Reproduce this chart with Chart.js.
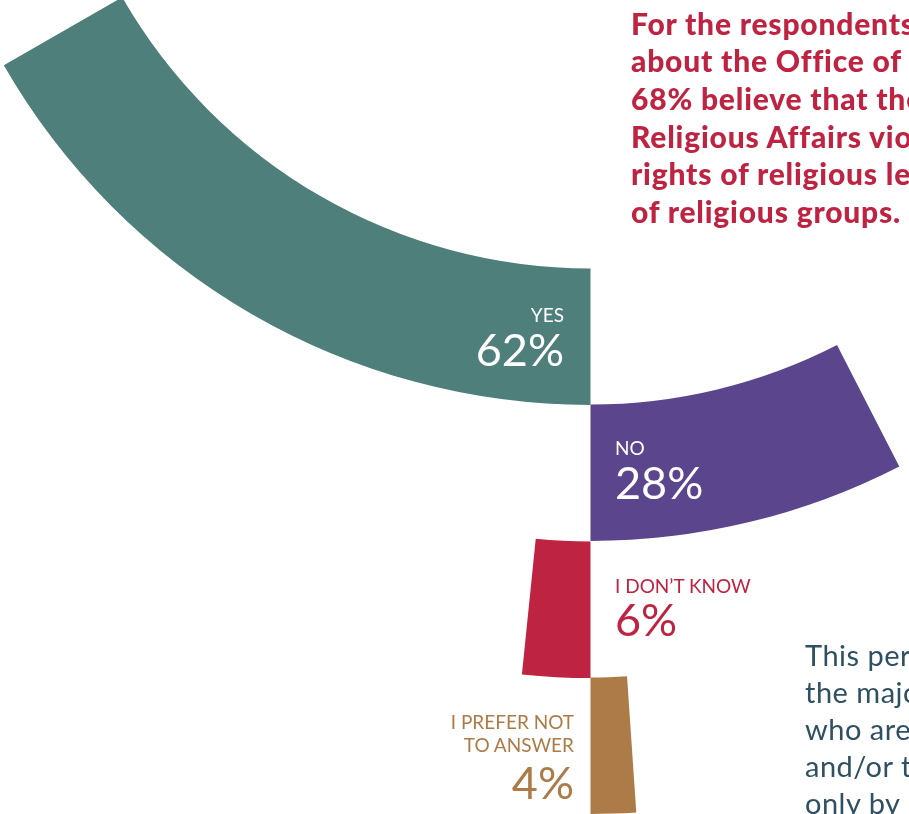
<!DOCTYPE html>
<html>
<head>
<meta charset="utf-8">
<script src="https://cdn.jsdelivr.net/npm/chart.js@4.4.1/dist/chart.umd.min.js"></script>
<style>
  html, body { margin: 0; padding: 0; background: #fff; }
  #stage { position: relative; width: 909px; height: 814px; overflow: hidden; font-family: Lato, "Open Sans", sans-serif; }
  #stage canvas { position: absolute; z-index: 1; }
  .txt { position: absolute; white-space: nowrap; z-index: 2; }
  #titulo { left: 631px; top: 4.5px; font-size: 30px; line-height: 37.7px; font-weight: 900; letter-spacing: 0.8px; color: #be2341; }
  #nota { left: 805px; top: 636px; font-size: 29px; line-height: 37px; font-weight: 400; letter-spacing: 0.5px; color: #2f5061; }
</style>
</head>
<body>
<div id="stage">
  <div id="titulo" class="txt">For the respondents who know<br>about the Office of Religious Affairs,<br>68% believe that the Office of<br>Religious Affairs violates the<br>rights of religious leaders and<br>of religious groups.</div>
  <div id="nota" class="txt">This perception is shared by<br>the majority of respondents<br>who are religious leaders<br>and/or those who know it<br>only by name.</div>
</div>
<script>
// respostas e percentuais
const categorias = [['YES'], ['NO'], ['I DON’T KNOW'], ['I PREFER NOT', 'TO ANSWER']];
const percentuais = [62, 28, 6, 4];
const cores = ['#4e7f7a', '#5b458c', '#be2341', '#ad7b47'];

// geometria dos anéis: cada anel é um doughnut próprio, deslocado para baixo
const centroX = 590;
const primeiroCentroY = -272;
const raioInterno = 540;
const espessura = 136.5;
const grausPor100 = 97; // 100% ocupa 97 graus

// posição dos rótulos (x, linha de base do texto pequeno e do número)
const rotulos = [
  { x: 564, base: 322, baseNum: 367, align: 'right', cor: '#fff' },
  { x: 615, base: 455, baseNum: 500, align: 'left', cor: '#fff' },
  { x: 615, base: 593, baseNum: 637, align: 'left', cor: cores[2] },
  { x: 574, base: 729, baseNum: 800, align: 'right', cor: cores[3] }
];

const stage = document.getElementById('stage');
const raioExterno = raioInterno + espessura;
const lado = Math.round(raioExterno * 2);

percentuais.forEach((valor, i) => {
  const centroY = primeiroCentroY + i * espessura;
  const canvas = document.createElement('canvas');
  canvas.width = lado;
  canvas.height = lado;
  canvas.style.width = lado + 'px';
  canvas.style.height = lado + 'px';
  canvas.style.left = (centroX - lado / 2) + 'px';
  canvas.style.top = (centroY - lado / 2) + 'px';
  stage.insertBefore(canvas, stage.firstChild);

  const horario = i % 2 === 0; // YES e "não sei" vão para a esquerda
  const vazio = 'rgba(0,0,0,0)';

  new Chart(canvas, {
    type: 'doughnut',
    data: {
      labels: horario ? [categorias[i].join(' '), ''] : ['', categorias[i].join(' ')],
      datasets: [
        {
          data: horario ? [valor, 100 - valor] : [100 - valor, valor],
          backgroundColor: horario ? [cores[i], vazio] : [vazio, cores[i]],
          borderWidth: 0,
          hoverOffset: 0,
          rotation: horario ? 180 : 180 - grausPor100,
          circumference: grausPor100
        },
        {
          // volta completa sem espessura, só para manter o centro no meio do canvas
          data: [1],
          backgroundColor: vazio,
          borderWidth: 0,
          hoverOffset: 0,
          weight: 0,
          rotation: 0,
          circumference: 360
        }
      ]
    },
    options: {
      responsive: false,
      animation: false,
      devicePixelRatio: 1,
      cutout: raioInterno,
      events: [],
      plugins: { legend: { display: false }, tooltip: { enabled: false } }
    }
  });
});

function colocaTexto(texto, x, base, tamanho, peso, cor, align) {
  const el = document.createElement('div');
  el.className = 'txt';
  el.textContent = texto;
  el.style.fontSize = tamanho + 'px';
  el.style.lineHeight = tamanho + 'px';
  el.style.fontWeight = peso;
  el.style.color = cor;
  el.style.top = (base - tamanho * 0.887) + 'px';
  if (align === 'right') el.style.right = (909 - x) + 'px';
  else el.style.left = x + 'px';
  stage.appendChild(el);
}

rotulos.forEach((r, i) => {
  categorias[i].forEach((linha, k) => {
    colocaTexto(linha, r.x, r.base + k * 23, 19, 400, r.cor, r.align);
  });
  colocaTexto(percentuais[i] + '%', r.x, r.baseNum, 45, 400, r.cor, r.align);
});
</script>
</body>
</html>
